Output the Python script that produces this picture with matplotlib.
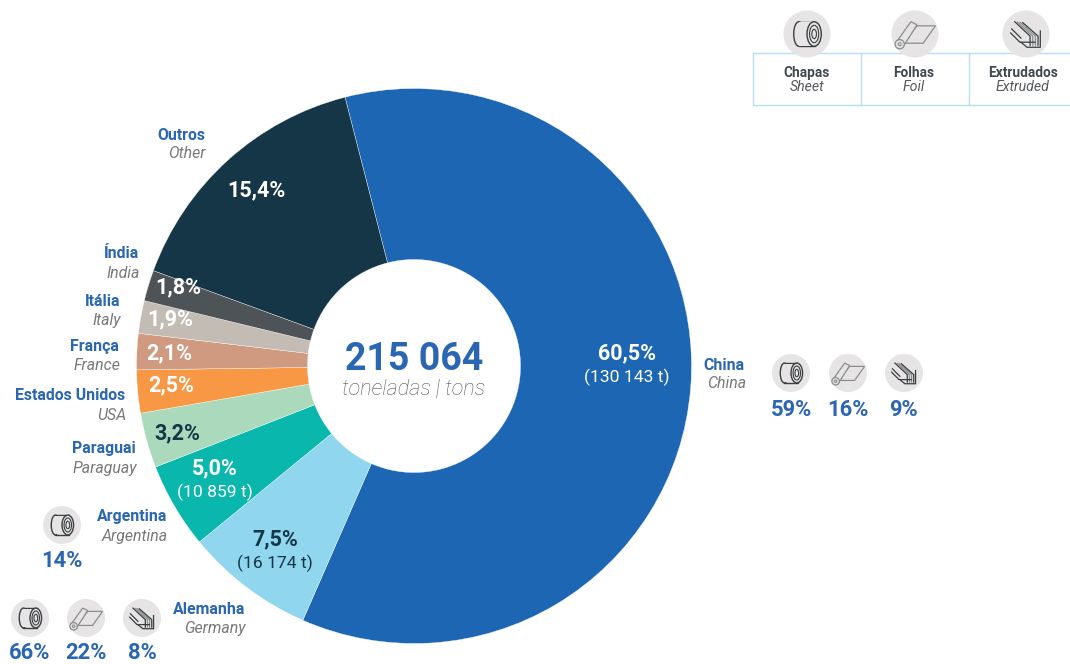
import numpy as np
import matplotlib
matplotlib.use('Agg')
import matplotlib.pyplot as plt
from matplotlib.patches import Circle, Polygon, Ellipse, Rectangle

plt.rcParams['font.family'] = ['Roboto', 'DejaVu Sans']

H = 664
values = [60.5, 7.5, 5.0, 3.2, 2.5, 2.1, 1.9, 1.8, 15.4]
colors = ['#1d66b3', '#8fd6ee', '#0ab7ad', '#abd9bb', '#f99844', '#cf9a80', '#c2bcb5', '#4d5357', '#153646']
names_pt = ['China', 'Alemanha', 'Argentina', 'Paraguai', 'Estados Unidos', 'França', 'Itália', 'Índia', 'Outros']
names_en = ['China', 'Germany', 'Argentina', 'Paraguay', 'USA', 'France', 'Italy', 'India', 'Other']
pct_labels = ['60,5%', '7,5%', '5,0%', '3,2%', '2,5%', '2,1%', '1,9%', '1,8%', '15,4%']
tons = ['(130 143 t)', '(16 174 t)', '(10 859 t)', '', '', '', '', '', '']
pct_colors = ['white', '#153646', 'white', '#153646', 'white', 'white', 'white', 'white', 'white']
pct_pos = [(627, 353), (275, 539), (215, 468), (177, 433), (171, 385), (169, 353), (170, 319), (178, 287), (256, 190)]
name_pos = [(745, 365), (245, 610), (167, 517), (136, 449), (125, 396), (119, 346), (120, 301), (139, 254), (205, 135)]
china_share = [59, 16, 9]
germany_share = [66, 22, 8]
argentina_share = [14]
BLUE = '#2a66b2'
GREY = '#77797b'


def roll(ax, x, y, r):
    s = r / 23.0
    c = '#3a3f42'
    ax.add_patch(Rectangle((x - 8 * s, y - 12 * s), 16 * s, 24 * s, fc='none', ec=c, lw=1.0, zorder=5))
    ax.add_patch(Ellipse((x - 8 * s, y), 10 * s, 24 * s, fc='#e6e4e4', ec=c, lw=1.0, zorder=5))
    ax.add_patch(Rectangle((x - 8 * s, y - 11.4 * s), 12 * s, 22.8 * s, fc='#e6e4e4', ec='none', zorder=5))
    ax.add_patch(Ellipse((x + 7 * s, y), 14 * s, 24 * s, fc='#e6e4e4', ec=c, lw=1.0, zorder=6))
    ax.add_patch(Ellipse((x + 7 * s, y), 9 * s, 17 * s, fc='none', ec=c, lw=0.8, zorder=6))
    ax.add_patch(Ellipse((x + 7 * s, y), 4.5 * s, 9 * s, fc='none', ec=c, lw=0.8, zorder=6))


def foil(ax, x, y, r):
    s = r / 23.0
    c = '#8b8d8e'
    ax.add_patch(Polygon([(x - 12 * s, y - 9 * s), (x + 8 * s, y - 9 * s), (x + 20 * s, y + 8 * s), (x + 2 * s, y + 8 * s)],
                         fc='none', ec=c, lw=0.9, zorder=5))
    ax.add_patch(Polygon([(x - 19 * s, y - 9 * s), (x - 4 * s, y + 12 * s), (x + 2 * s, y + 9 * s), (x - 12 * s, y - 13 * s)],
                         fc='#e6e4e4', ec=c, lw=0.9, zorder=6))
    ax.add_patch(Circle((x - 15 * s, y - 10 * s), 4.5 * s, fc='#e6e4e4', ec=c, lw=0.9, zorder=7))
    ax.add_patch(Circle((x - 15 * s, y - 10 * s), 1.5 * s, fc='none', ec=c, lw=0.8, zorder=7))


def extruded(ax, x, y, r):
    s = r / 23.0
    c = '#3a3f42'
    for k in range(4):
        d = k * 2.6 * s
        ax.plot([x - 11 * s + d, x + 4 * s + d, x + 4 * s + d], [y + 12 * s - k * 0.3 * s, y - 2 * s, y - 11 * s],
                color=c if k in (0, 3) else '#8b8d8e', lw=0.9, zorder=5)
    ax.plot([x - 15 * s, x - 6 * s, x + 9 * s], [y + 1 * s, y - 8 * s, y - 8 * s], color=c, lw=0.9, zorder=5)
    ax.plot([x - 14 * s, x - 5 * s], [y + 5 * s, y - 4 * s], color=c, lw=0.9, zorder=5)
    ax.plot([x + 14 * s, x + 14 * s, x + 1 * s, x - 5 * s], [y + 3 * s, y - 13 * s, y - 13 * s, y - 8 * s], color=c, lw=0.9, zorder=5)


def icon(ax, kind, x, py, r):
    y = H - py
    ax.add_patch(Circle((x, y), r, fc='#e6e4e4', ec='none', zorder=4))
    if kind == 0:
        roll(ax, x, y, r)
    elif kind == 1:
        foil(ax, x, y, r)
    else:
        extruded(ax, x, y, r)


fig = plt.figure(figsize=(10.7, 6.64), dpi=100)
ax = fig.add_axes([0, 0, 1, 1])

ax.pie(values, colors=colors, startangle=90 + 14.4, counterclock=False, center=(414, H - 366), radius=277.5,
       wedgeprops={'width': 171, 'edgecolor': 'white', 'linewidth': 0.25}, frame=True)
ax.set_xlim(0, 1070)
ax.set_ylim(0, H)
ax.set_aspect('equal')
ax.axis('off')

for i in range(len(values)):
    x, y = pct_pos[i]
    ax.text(x, H - y, pct_labels[i], color=pct_colors[i], fontsize=15.5, fontweight='bold', ha='center', va='center', zorder=3)
    if tons[i]:
        ax.text(x, H - y - 24, tons[i], color=pct_colors[i], fontsize=12.6, ha='center', va='center', zorder=3)
    nx, ny = name_pos[i]
    ax.text(nx, H - ny, names_pt[i], color=BLUE, fontsize=11.4, fontweight='bold', ha='right', va='center')
    ax.text(nx + 1, H - ny - 19, names_en[i], color=GREY, fontsize=11.4, style='italic', ha='right', va='center')

ax.text(414, H - 359, '215 064', color=BLUE, fontsize=27, fontweight='bold', ha='center', va='center')
ax.text(414, H - 390, 'toneladas | tons', color='#55595c', fontsize=15.6, style='italic', fontweight='light', ha='center', va='center')

# legend box
ax.add_patch(Rectangle((753, H - 105), 320, 52, fc='none', ec='#b5e0ec', lw=1, zorder=2))
for lx in [860.5, 968.5]:
    ax.plot([lx, lx], [H - 105, H - 53], color='#b5e0ec', lw=1, zorder=2)
legend_x = [807, 914, 1023]
legend_pt = ['Chapas', 'Folhas', 'Extrudados']
legend_en = ['Sheet', 'Foil', 'Extruded']
for k in range(3):
    icon(ax, k, [807, 915, 1026][k], 34, 23.5)
    ax.text(legend_x[k], H - 73, legend_pt[k], color='#3f484c', fontsize=9.8, fontweight='bold', ha='center', va='center')
    ax.text(legend_x[k], H - 87, legend_en[k], color='#55595c', fontsize=10.2, style='italic', ha='center', va='center')

# shares by country
for k, x in enumerate([791, 848, 904]):
    icon(ax, k, x, 373, 19)
    ax.text(x, H - 410, '%d%%' % china_share[k], color=BLUE, fontsize=15.8, fontweight='bold', ha='center', va='center')
for k, x in enumerate([30, 86, 142]):
    icon(ax, k, x, 618, 19)
    ax.text(x, H - 653, '%d%%' % germany_share[k], color=BLUE, fontsize=15.8, fontweight='bold', ha='center', va='center')
icon(ax, 0, 62, 525, 19)
ax.text(62, H - 561, '%d%%' % argentina_share[0], color=BLUE, fontsize=15.8, fontweight='bold', ha='center', va='center')

fig.savefig('out.png', dpi=100)
